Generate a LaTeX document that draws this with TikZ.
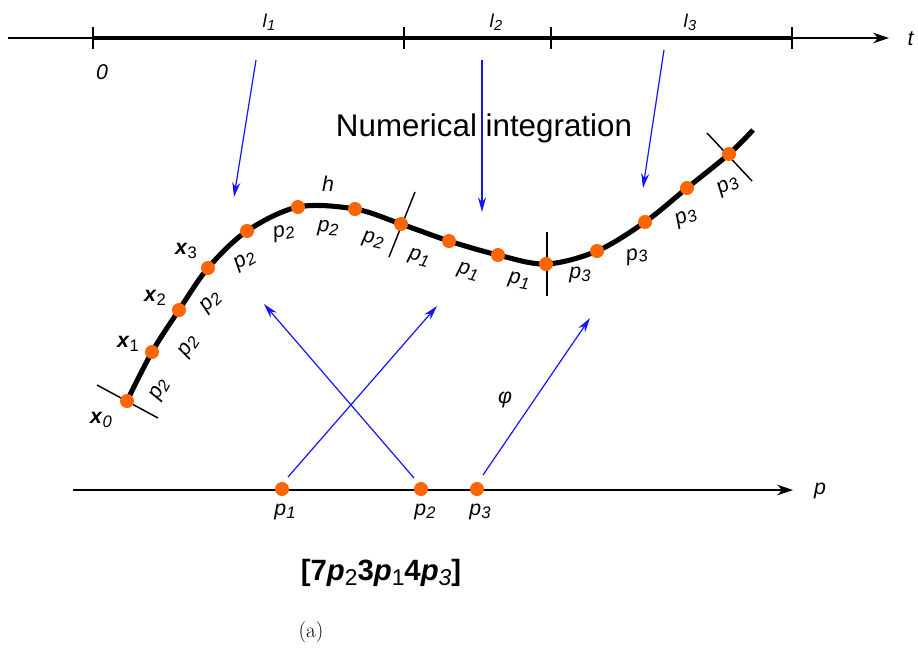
\documentclass[tikz,border=0pt]{standalone}
\usepackage{fontspec}
\usepackage{graphicx}
\newfontfamily\arial{Liberation Sans}
\usetikzlibrary{arrows.meta}
\definecolor{dotorange}{RGB}{255,102,0}
\definecolor{arrblue}{RGB}{20,20,255}
\newcommand\subsc[1]{\raisebox{-0.3ex}{\scalebox{0.78}{\normalfont\arial #1}}}
\newcommand\plab[2]{\textit{#1}\subsc{\itshape #2}}
\begin{document}
\begin{tikzpicture}[x=0.75pt,y=-0.75pt,
  dot/.style={circle,fill=dotorange,inner sep=0pt,minimum size=10.5pt},
  barrow/.style={draw=arrblue,line width=0.9pt,-{Stealth[length=11pt,width=6pt]}},
  thinax/.style={line width=1pt},
  tickmark/.style={line width=1.5pt},
  crossmark/.style={line width=1.1pt},
  lbl/.style={font=\arial\fontsize{16}{18}\selectfont,inner sep=0pt},
  tlbl/.style={font=\arial\fontsize{14}{16}\selectfont,inner sep=0pt},
  xlbl/.style={font=\arial\bfseries\fontsize{16}{18}\selectfont,inner sep=0pt},
  big/.style={font=\arial\fontsize{23.5}{26}\selectfont,inner sep=0pt}]
\useasboundingbox (0,0) rectangle (918,647);
\fill[white] (0,0) rectangle (918,647);
% top axis
\coordinate (ta) at (8,38);
\coordinate (T0) at (93,38);
\coordinate (T1) at (404,38);
\coordinate (T2) at (551,38);
\coordinate (T3) at (792,38);
\coordinate (tt) at (889,38);
\draw[thinax] (ta) -- (T0);
\draw[line width=2.4pt] (T0) -- (T3);
\draw[thinax,-{Stealth[length=12pt,width=8pt]}] (T3) -- (tt);
\foreach \t in {T0,T1,T2,T3}
  \draw[tickmark] ([yshift=8pt]\t) -- ([yshift=-8pt]\t);
\node[lbl] (zero) at (102,72) {\textit{0}};
\node[tlbl] (l1) at (269,22) {\plab{l}{1}};
\node[tlbl] (l2) at (496,22) {\plab{l}{2}};
\node[tlbl] (l3) at (690,22) {\plab{l}{3}};
\node[lbl] (tl) at (911,39) {\textit{t}};
% title
\node[big] (ni) at (484,128) {Numerical integration};
% curve
\draw[line width=3.8pt] plot[smooth,tension=0.55] coordinates {(127,401) (152,352) (179,310) (208,268) (247,231) (298,207) (355,209) (401,224) (449,241) (498,255) (546,264) (597,251) (645,222) (687,188) (729,154) (753,130)};
% cross marks
\draw[crossmark] (97,385) -- (158,418);
\draw[crossmark] (415,192) -- (389,257);
\draw[crossmark] (547,232) -- (547,296);
\draw[crossmark] (707,133) -- (752,181);
% dots
\node[dot] (c0) at (127,401) {};
\node[dot] (c1) at (152,352) {};
\node[dot] (c2) at (179,310) {};
\node[dot] (c3) at (208,268) {};
\node[dot] (c4) at (247,231) {};
\node[dot] (c5) at (298,207) {};
\node[dot] (c6) at (355,209) {};
\node[dot] (c7) at (401,224) {};
\node[dot] (c8) at (449,241) {};
\node[dot] (c9) at (498,255) {};
\node[dot] (c10) at (546,264) {};
\node[dot] (c11) at (597,251) {};
\node[dot] (c12) at (645,222) {};
\node[dot] (c13) at (687,188) {};
\node[dot] (c14) at (729,154) {};
% curve labels
\node[xlbl] (x0) at (101,420) {\textit{x}\subsc{\itshape 0}};
\node[xlbl] (x1) at (128,344) {\textit{x}\subsc{1}};
\node[xlbl] (x2) at (155,298) {\textit{x}\subsc{2}};
\node[xlbl] (x3) at (186,251) {\textit{x}\subsc{3}};
\node[lbl] (h) at (328,184) {\textit{h}};
\node[lbl,rotate=62] (q1) at (160,390) {\plab{p}{2}};
\node[lbl,rotate=56] (q2) at (189,347) {\plab{p}{2}};
\node[lbl,rotate=45] (q3) at (211,303) {\plab{p}{2}};
\node[lbl,rotate=30] (q4) at (245,261) {\plab{p}{2}};
\node[lbl,rotate=12] (q5) at (284,233) {\plab{p}{2}};
\node[lbl,rotate=-3] (q6) at (328,229) {\plab{p}{2}};
\node[lbl,rotate=-12] (q7) at (373,240) {\plab{p}{2}};
\node[lbl,rotate=-15] (q8) at (419,258) {\plab{p}{1}};
\node[lbl,rotate=-15] (q9) at (468,272) {\plab{p}{1}};
\node[lbl,rotate=-10] (q10) at (519,281) {\plab{p}{1}};
\node[lbl] (q11) at (580,275) {\plab{p}{3}};
\node[lbl,rotate=10] (q12) at (637,256) {\plab{p}{3}};
\node[lbl,rotate=22] (q13) at (686,218) {\plab{p}{3}};
\node[lbl,rotate=28] (q14) at (728,186) {\plab{p}{3}};
% top blue arrows
\coordinate (a1s) at (256,60);
\coordinate (a1e) at (234,197);
\coordinate (a2s) at (482,60);
\coordinate (a2e) at (482,212);
\coordinate (a3s) at (664,50);
\coordinate (a3e) at (643,188);
\draw[barrow] (a1s) -- (a1e);
\draw[barrow] (a2s) -- (a2e);
\draw[barrow] (a3s) -- (a3e);
% bottom axis
\coordinate (ba) at (73,490);
\coordinate (bt) at (793,490);
\draw[thinax,-{Stealth[length=12pt,width=8pt]}] (ba) -- (bt);
\node[lbl] (pl) at (820,491) {\textit{p}};
\node[dot] (b1) at (282,489) {};
\node[dot] (b2) at (421,489) {};
\node[dot] (b3) at (477,489) {};
\node[lbl] (bl1) at (285,512) {\plab{p}{1}};
\node[lbl] (bl2) at (425,512) {\plab{p}{2}};
\node[lbl] (bl3) at (480,512) {\plab{p}{3}};
% bottom blue arrows
\coordinate (e1) at (437,306);
\coordinate (e2) at (264,304);
\coordinate (e3) at (590,318);
\draw[barrow] ([shift={(6,-12)}]b1.center) -- (e1);
\draw[barrow] ([shift={(-7,-11)}]b2.center) -- (e2);
\draw[barrow] ([shift={(6,-14)}]b3.center) -- (e3);
\node[lbl] (phi) at (505,400) {\textit{φ}};
% encoding
\node[font=\arial\bfseries\fontsize{22}{25}\selectfont,inner sep=0pt] (code) at (381,573) {[7\textit{p}\subsc{2}3\textit{p}\subsc{1}4\textit{p}\subsc{\itshape 3}]};
\node[font=\fontsize{16}{18}\selectfont,inner sep=0pt] (cap) at (311,632) {(a)};
\end{tikzpicture}
\end{document}
